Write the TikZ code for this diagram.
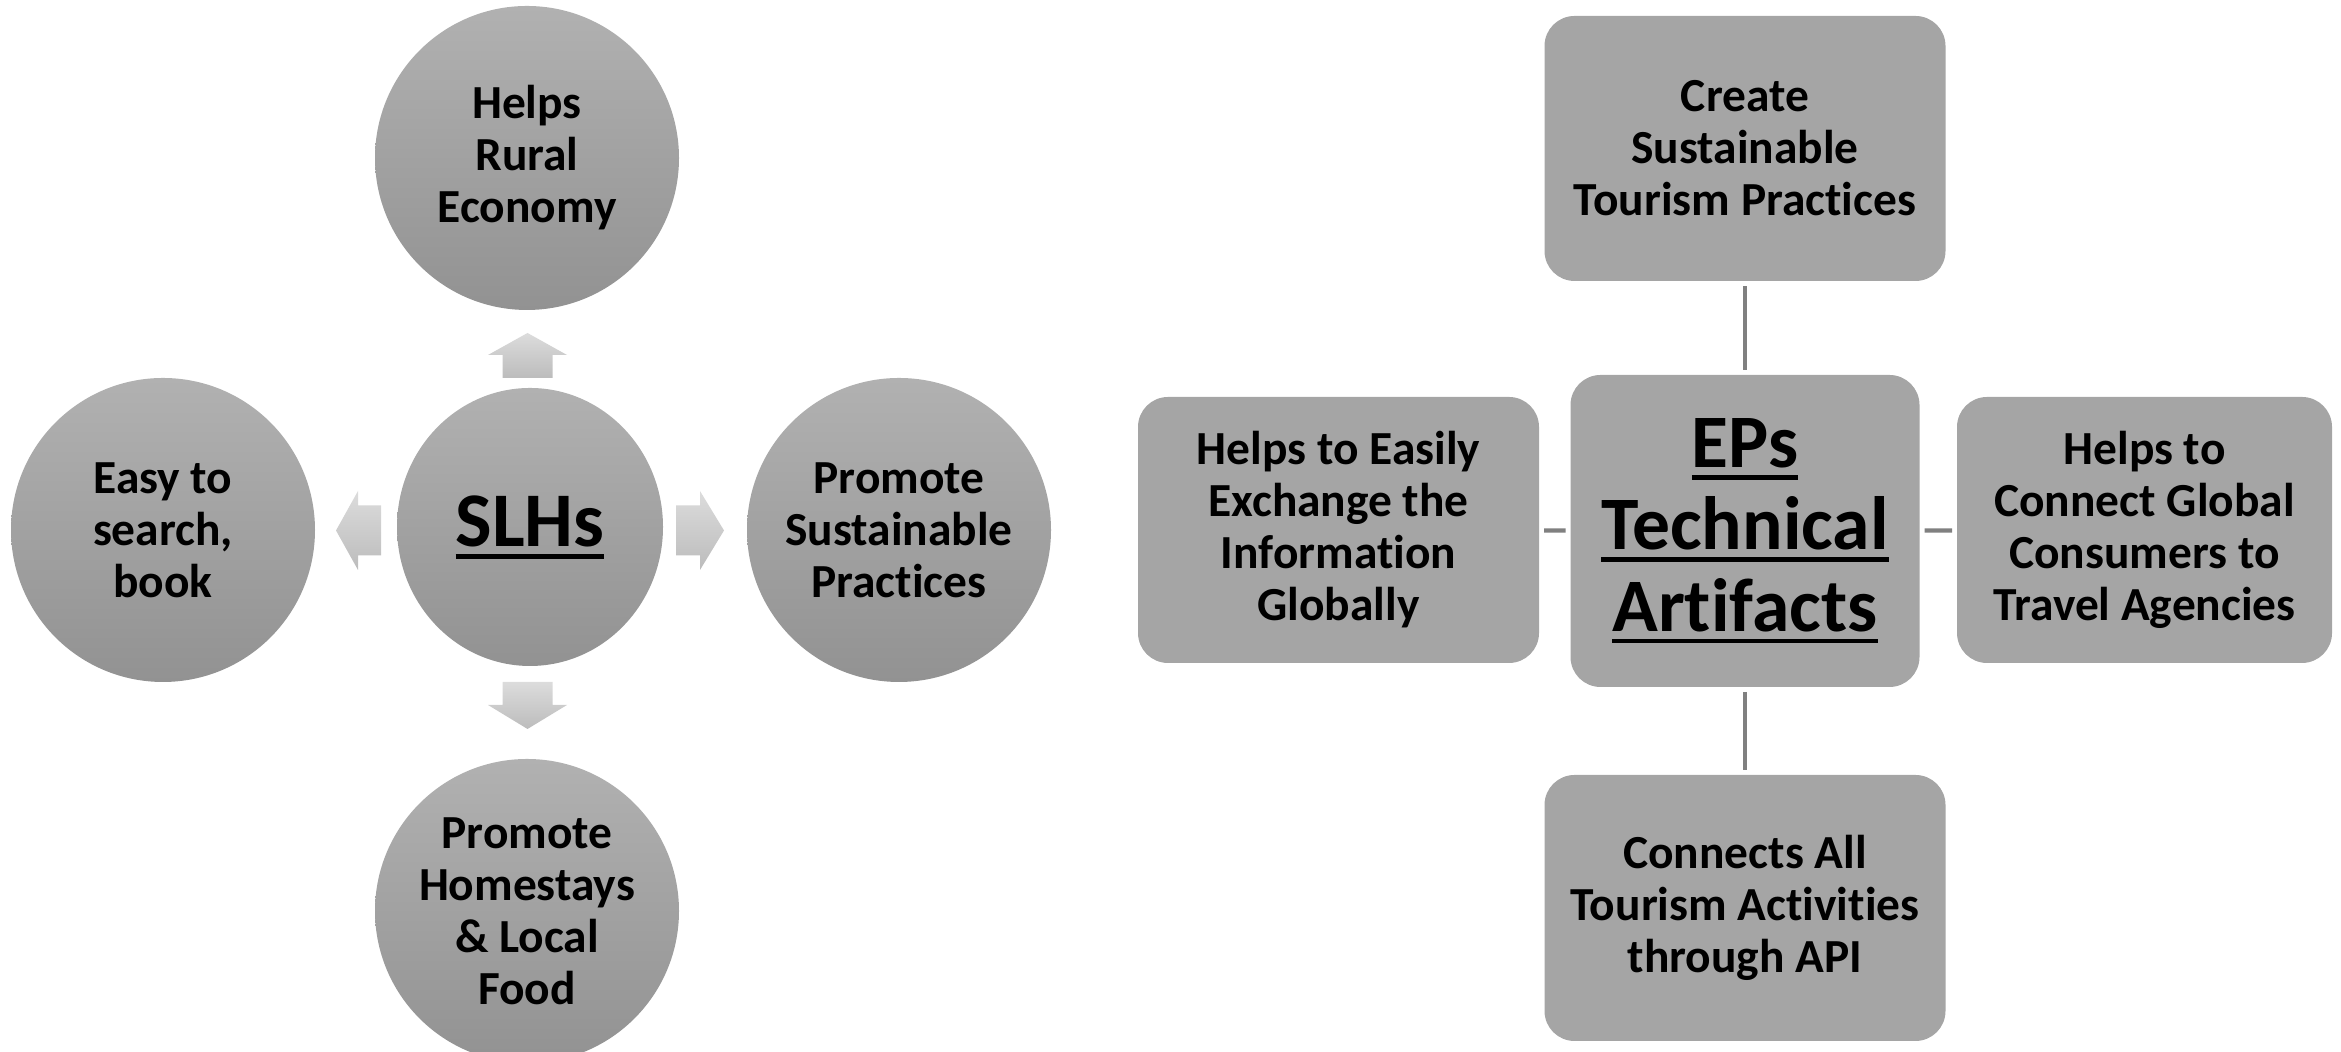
\documentclass[tikz,border=0pt]{standalone}
\usepackage{fontspec}
\setmainfont{Carlito}[Ligatures=NoCommon]
\usetikzlibrary{shapes.geometric}
\definecolor{boxgray}{HTML}{A5A5A5}
\definecolor{linegray}{HTML}{808080}
\definecolor{circtop}{HTML}{B1B1B1}
\definecolor{circbot}{HTML}{929292}
\definecolor{arrtop}{HTML}{DCDCDC}
\definecolor{arrbot}{HTML}{BCBCBC}
% underline one line of a title
\newcommand{\ulline}[1]{\sbox0{#1}\rlap{\usebox0}\rule[-0.16em]{\wd0}{0.055em}}
\begin{document}
\begin{tikzpicture}[inner sep=0pt,outer sep=0pt,
itemfont/.style={font=\fontsize{13.5}{14.8}\selectfont\bfseries,align=center},
bubble/.style={circle,minimum size=3.04cm,top color=circtop,bottom color=circbot,itemfont},
roundbox/.style={rectangle,rounded corners=0.3cm,fill=boxgray,minimum width=4.01cm,minimum height=2.66cm,itemfont},
blockarrow/.style={top color=arrtop,bottom color=arrbot},
link/.style={draw=linegray,line width=1.2pt,shorten <=0.05cm,shorten >=0.05cm}]
\useasboundingbox (0,0) rectangle (23.41,10.52);
% SLHs cycle
\draw (5.30,5.25) node[ellipse,minimum width=2.66cm,minimum height=2.78cm,top color=circtop,bottom color=circbot,
  font=\fontsize{22}{26}\selectfont\bfseries] (slh) {\ulline{SLHs}};
\draw (5.27,8.94) node[bubble] (rural) {Helps\\Rural\\Economy};
\draw (1.63,5.22) node[bubble] (easy) {Easy to\\search,\\book};
\draw (8.99,5.22) node[bubble] (sustain) {Promote\\Sustainable\\Practices};
\draw (5.27,1.41) node[bubble] (home) {Promote\\Homestays\\\& Local\\Food};
% block arrows out of SLHs
\coordinate (aup) at (5.275,6.74);
\coordinate (adown) at (5.275,3.70);
\coordinate (aleft) at (3.81,5.215);
\coordinate (aright) at (6.76,5.215);
\shade[blockarrow] (aup) ++(-0.25,0) -- ++(0,0.23) -- ++(-0.145,0) -- ++(0.395,0.22)
  -- ++(0.395,-0.22) -- ++(-0.145,0) -- ++(0,-0.23) -- cycle;
\shade[blockarrow] (adown) ++(-0.25,0) -- ++(0,-0.23) -- ++(-0.145,0) -- ++(0.395,-0.24)
  -- ++(0.395,0.24) -- ++(-0.145,0) -- ++(0,0.23) -- cycle;
\shade[blockarrow] (aleft) ++(0,0.25) -- ++(-0.23,0) -- ++(0,0.145) -- ++(-0.22,-0.395)
  -- ++(0.22,-0.395) -- ++(0,0.145) -- ++(0.23,0) -- cycle;
\shade[blockarrow] (aright) ++(0,0.25) -- ++(0.24,0) -- ++(0,0.145) -- ++(0.24,-0.395)
  -- ++(-0.24,-0.395) -- ++(0,0.145) -- ++(-0.24,0) -- cycle;
% EPs hub
\draw (17.45,5.21) node[roundbox,minimum width=3.49cm,minimum height=3.12cm,
  font=\fontsize{21.5}{23.3}\selectfont\bfseries] (eps) {\ulline{EPs}\\\ulline{Technical}\\\ulline{Artifacts}};
\draw (17.45,9.035) node[roundbox,minimum height=2.65cm] (create) {Create\\Sustainable\\Tourism Practices};
\draw (13.385,5.22) node[roundbox] (exch) {Helps to Easily\\Exchange the\\Information\\Globally};
\draw (21.445,5.22) node[roundbox,minimum width=3.75cm] (glob) {Helps to\\Connect Global\\Consumers to\\Travel Agencies};
\draw (17.45,1.44) node[roundbox] (api) {Connects All\\Tourism Activities\\through API};
\draw[link] (eps) -- (create);
\draw[link] (eps) -- (api);
\draw[link] (eps) -- (exch);
\draw[link] (eps) -- (glob);
\end{tikzpicture}
\end{document}
